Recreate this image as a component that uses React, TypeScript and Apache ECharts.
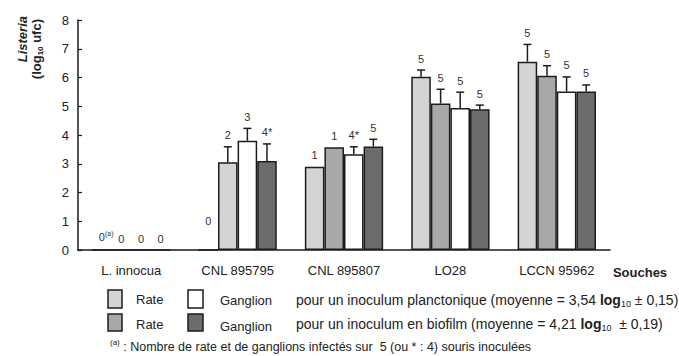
import React, { useEffect, useRef } from "react";
import * as echarts from "echarts";

const categories = ["L. innocua", "CNL 895795", "CNL 895807", "LO28", "LCCN 95962"];
const seriesNames = ["Rate planctonique", "Rate biofilm", "Ganglion planctonique", "Ganglion biofilm"];

const ratePlanc = [0, 0, 2.9, 6.03, 6.55];
const rateBiofilm = [0, 3.05, 3.57, 5.1, 6.06];
const gangPlanc = [0, 3.8, 3.33, 4.94, 5.51];
const gangBiofilm = [0, 3.1, 3.6, 4.9, 5.51];

const ratePlancErr = [null, null, null, 6.26, 7.15];
const rateBiofilmErr = [null, 3.59, null, 5.59, 6.41];
const gangPlancErr = [null, 4.23, 3.59, 5.49, 6.02];
const gangBiofilmErr = [null, 3.69, 3.85, 5.04, 5.74];

const ratePlancLabel = ["0(a)", "0", "1", "5", "5"];
const rateBiofilmLabel = ["0", "2", "1", "5", "5"];
const gangPlancLabel = ["0", "3", "4*", "5", "5"];
const gangBiofilmLabel = ["0", "4*", "5", "5", "5"];

// label anchor override (value units) where the count sits off its bar
const ratePlancAnchor = [null, 0.6, null, null, null];

const yTicks = [0, 1, 2, 3, 4, 5, 6, 7, 8];

const FONT = "'Liberation Sans', Arial, Helvetica, sans-serif";
const colors = ["#d3d4d6", "#a7a8aa", "#ffffff", "#6c6c6e"];
const BORDER = "#1c1c1c";
const TEXT = "#222";
const LABEL = "#333";
const BAR_RATIO = 0.184;

export default function App() {
  const ref = useRef<HTMLDivElement>(null);
  useEffect(() => {
    document.body.style.margin = "0";
    if (!ref.current) return;
    const chart = echarts.init(ref.current, null, { renderer: "svg" });

    const values = [ratePlanc, rateBiofilm, gangPlanc, gangBiofilm];
    const errs = [ratePlancErr, rateBiofilmErr, gangPlancErr, gangBiofilmErr];
    const labels = [ratePlancLabel, rateBiofilmLabel, gangPlancLabel, gangBiofilmLabel];
    const anchors: any[] = [ratePlancAnchor, [], [], []];

    const barSeries = values.map((vals, s) => ({
      type: "bar",
      name: seriesNames[s],
      barWidth: (BAR_RATIO * 100).toFixed(1) + "%",
      barGap: "0%",
      data: vals.map((v, c) =>
        s === 1 && c === 1 ? { value: v, itemStyle: { color: colors[0] } } : v
      ),
      itemStyle: { color: colors[s], borderColor: BORDER, borderWidth: 1.5 },
      silent: true,
    }));

    const errData: any[] = [];
    const errLabels: string[] = [];
    for (let s = 0; s < 4; s++) {
      for (let c = 0; c < categories.length; c++) {
        const v = values[s][c];
        const e = errs[s][c] ?? v;
        const a = anchors[s][c] ?? Math.max(e, v);
        errData.push([c, s, v, e, a]);
        errLabels.push(labels[s][c]);
      }
    }

    const sub = (size: number, lh: number) => ({
      fontSize: size,
      fontFamily: FONT,
      fill: TEXT,
      verticalAlign: "bottom",
      lineHeight: lh,
    });

    const option: any = {
      animation: false,
      grid: { left: 78, right: 69, top: 20, bottom: 106 },
      xAxis: {
        type: "category",
        data: categories,
        axisLine: { lineStyle: { color: "#1a1a1a", width: 1.5 } },
        axisTick: { inside: true, length: 4, lineStyle: { color: "#1a1a1a", width: 1.2 } },
        axisLabel: { color: TEXT, fontSize: 13, fontFamily: FONT, margin: 14 },
      },
      yAxis: {
        type: "value",
        min: yTicks[0],
        max: yTicks[yTicks.length - 1],
        interval: 1,
        splitLine: { show: false },
        axisLine: { show: true, lineStyle: { color: "#1a1a1a", width: 1.5 } },
        axisTick: { show: true, inside: true, length: 4, lineStyle: { color: "#1a1a1a", width: 1.2 } },
        axisLabel: { color: TEXT, fontSize: 13, fontFamily: FONT, margin: 9 },
      },
      series: [
        ...barSeries,
        {
          type: "custom",
          silent: true,
          z: 5,
          itemStyle: { color: LABEL },
          data: errData,
          encode: { x: 0, y: 3 },
          renderItem: (params: any, api: any) => {
            const c = api.value(0);
            const s = api.value(1);
            const v = api.value(2);
            const e = api.value(3);
            const a = api.value(4);
            const bw = api.size([1, 0])[0] * BAR_RATIO;
            const cx = api.coord([c, 0])[0] + (s - 1.5) * bw;
            const yTop = api.coord([c, v])[1];
            const yErr = api.coord([c, e])[1];
            const yA = api.coord([c, a])[1];
            const children: any[] = [];
            const lineStyle = { stroke: BORDER, lineWidth: 1.5 };
            if (e > v) {
              children.push({ type: "line", shape: { x1: cx, y1: yTop, x2: cx, y2: yErr }, style: lineStyle });
              children.push({ type: "line", shape: { x1: cx - 4, y1: yErr, x2: cx + 4, y2: yErr }, style: lineStyle });
            }
            const lbl = errLabels[params.dataIndex];
            if (lbl) {
              const isSup = lbl.indexOf("(a)") >= 0;
              children.push({
                type: "text",
                x: isSup ? cx - 3 : cx,
                y: yA - 6,
                style: {
                  text: isSup ? "0{sup|(a)}" : lbl,
                  fill: LABEL,
                  fontSize: 11,
                  fontFamily: FONT,
                  align: isSup ? "left" : "center",
                  verticalAlign: "bottom",
                  rich: isSup
                    ? { sup: { fontSize: 7, fill: LABEL, fontFamily: FONT, verticalAlign: "top", lineHeight: 14 } }
                    : undefined,
                },
              });
            }
            return { type: "group", children };
          },
        },
      ],
      graphic: [
        {
          type: "text",
          x: 22,
          y: 16,
          rotation: Math.PI / 2,
          style: {
            text: "Listeria",
            fontSize: 13,
            fontWeight: "bold",
            fontStyle: "italic",
            fontFamily: FONT,
            fill: TEXT,
            align: "right",
            verticalAlign: "middle",
          },
        },
        {
          type: "text",
          x: 36,
          y: 19,
          rotation: Math.PI / 2,
          style: {
            text: "(log{sub|10} ufc)",
            fontSize: 13,
            fontWeight: "bold",
            fontFamily: FONT,
            fill: TEXT,
            align: "right",
            verticalAlign: "middle",
            rich: { sub: { ...sub(8, 16), fontWeight: "bold" } },
          },
        },
        {
          type: "text",
          x: 640,
          y: 272,
          style: { text: "Souches", fontSize: 13, fontWeight: "bold", fontFamily: FONT, fill: TEXT, align: "center", verticalAlign: "middle" },
        },
        { type: "rect", shape: { x: 108, y: 290, width: 14, height: 18 }, style: { fill: colors[0], stroke: BORDER, lineWidth: 1.5 } },
        { type: "rect", shape: { x: 188, y: 290, width: 15, height: 18 }, style: { fill: colors[2], stroke: BORDER, lineWidth: 1.5 } },
        { type: "rect", shape: { x: 108, y: 314, width: 14, height: 17 }, style: { fill: colors[1], stroke: BORDER, lineWidth: 1.5 } },
        { type: "rect", shape: { x: 188, y: 314, width: 15, height: 17 }, style: { fill: colors[3], stroke: BORDER, lineWidth: 1.5 } },
        { type: "text", x: 136, y: 299, style: { text: "Rate", fontSize: 13, fontFamily: FONT, fill: TEXT, verticalAlign: "middle" } },
        { type: "text", x: 136, y: 324, style: { text: "Rate", fontSize: 13, fontFamily: FONT, fill: TEXT, verticalAlign: "middle" } },
        { type: "text", x: 220, y: 300, style: { text: "Ganglion", fontSize: 13, fontFamily: FONT, fill: TEXT, verticalAlign: "middle" } },
        { type: "text", x: 220, y: 326, style: { text: "Ganglion", fontSize: 13, fontFamily: FONT, fill: TEXT, verticalAlign: "middle" } },
        {
          type: "text",
          x: 296,
          y: 300,
          style: {
            text: "pour un inoculum planctonique (moyenne = 3,54 {b|log}{sub|10} ± 0,15)",
            fontSize: 14,
            fontFamily: FONT,
            fill: TEXT,
            verticalAlign: "middle",
            rich: {
              b: { fontSize: 14, fontWeight: "bold", fontFamily: FONT, fill: TEXT },
              sub: sub(9, 17),
            },
          },
        },
        {
          type: "text",
          x: 296,
          y: 324,
          style: {
            text: "pour un inoculum en biofilm (moyenne = 4,21 {b|log}{sub|10}  ± 0,19)",
            fontSize: 14,
            fontFamily: FONT,
            fill: TEXT,
            verticalAlign: "middle",
            rich: {
              b: { fontSize: 14, fontWeight: "bold", fontFamily: FONT, fill: TEXT },
              sub: sub(9, 17),
            },
          },
        },
        {
          type: "text",
          x: 110,
          y: 347,
          style: {
            text: "{sup|(a)} : Nombre de rate et de ganglions infectés sur  5 (ou * : 4) souris inoculées",
            fontSize: 12.5,
            fontFamily: FONT,
            fill: TEXT,
            verticalAlign: "middle",
            rich: { sup: { fontSize: 8, fontFamily: FONT, fill: TEXT, verticalAlign: "top", lineHeight: 18 } },
          },
        },
      ],
    };
    chart.setOption(option);
    return () => chart.dispose();
  }, []);
  return <div ref={ref} style={{ width: 679, height: 356 }} />;
}
